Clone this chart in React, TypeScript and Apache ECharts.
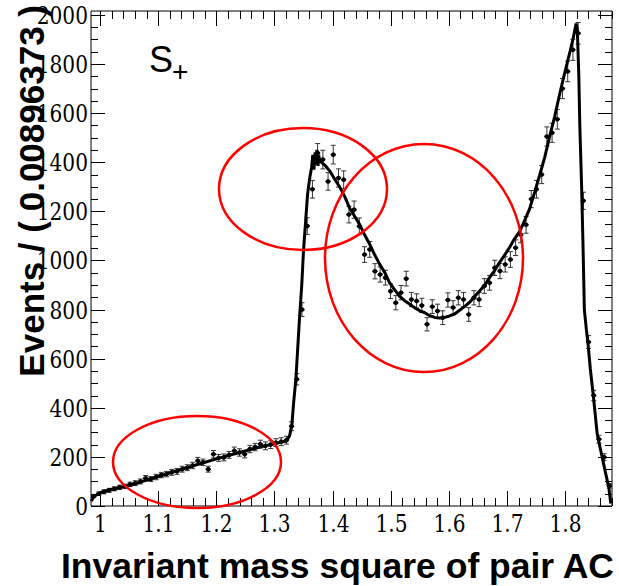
import React, { useEffect, useRef } from "react";
import * as echarts from "echarts";

// ---- data ----
const X_MIN = 0.9844;
const BIN_WIDTH = 0.00896373;
const Y_MAX = 2016;

const binCounts = [
  40, 50, 58, 64, 70, 76, 80, 88, 93, 100,
  113, 110, 118, 126, 130, 137, 141, 150, 156, 165,
  184, 178, 150, 211, 196, 198, 208, 225, 218, 211,
  232, 240, 252, 245, 250, 258, 262, 268, 325, 516,
  800, 1140, 1290, 1438, 1411, 1322, 1431, 1336, 1329, 1187,
  1207, 1139, 1024, 1045, 956, 943, 930, 875, 828, 869,
  926, 841, 835, 817, 740, 812, 794, 767, 839, 808,
  848, 841, 780, 848, 841, 896, 909, 970, 957, 984,
  1004, 1052, 1105, 1145, 1250, 1290, 1350, 1505, 1520, 1575,
  1700, 1770, 1858, 1925, 1243, 668, 450, 272, 199, 82,
];

const binErrors = [
  6, 7, 8, 8, 8, 9, 9, 9, 10, 10,
  11, 10, 11, 11, 11, 12, 12, 12, 12, 13,
  14, 13, 12, 15, 14, 14, 14, 15, 15, 15,
  15, 15, 16, 16, 16, 16, 16, 16, 18, 23,
  28, 34, 36, 38, 38, 36, 38, 37, 36, 34,
  35, 34, 32, 32, 31, 31, 30, 30, 29, 29,
  30, 29, 29, 29, 27, 28, 28, 28, 29, 28,
  29, 29, 28, 29, 29, 30, 30, 31, 31, 31,
  32, 32, 33, 34, 35, 36, 37, 39, 39, 40,
  41, 42, 43, 44, 35, 26, 21, 16, 14, 9,
];

const fitX = [
  0.9852, 0.988, 0.993, 1.0, 1.017, 1.043, 1.069, 1.103, 1.137, 1.172,
  1.206, 1.24, 1.275, 1.309, 1.321, 1.326, 1.33, 1.333, 1.337, 1.34,
  1.343, 1.347, 1.35, 1.354, 1.357, 1.361, 1.364, 1.366, 1.368, 1.37,
  1.371, 1.373, 1.375, 1.376, 1.378, 1.383, 1.388, 1.395, 1.404, 1.412,
  1.421, 1.429, 1.438, 1.447, 1.455, 1.464, 1.472, 1.481, 1.49, 1.498,
  1.507, 1.515, 1.524, 1.533, 1.541, 1.55, 1.558, 1.567, 1.576, 1.584,
  1.593, 1.601, 1.61, 1.618, 1.627, 1.636, 1.644, 1.653, 1.662, 1.67,
  1.679, 1.687, 1.696, 1.705, 1.713, 1.722, 1.73, 1.739, 1.748, 1.756,
  1.765, 1.773, 1.782, 1.791, 1.799, 1.808, 1.814, 1.819, 1.8211, 1.8237,
  1.8254, 1.8285, 1.831, 1.8332, 1.8366, 1.8395, 1.8434, 1.8486, 1.8555, 1.8624,
  1.8692, 1.8753, 1.8787,
];
const fitY = [
  20, 34, 44, 54, 66, 80, 97, 122, 147, 172,
  196, 218, 240, 258, 266, 285, 330, 420, 520, 640,
  760, 900, 1040, 1170, 1270, 1340, 1380, 1430, 1370, 1440,
  1390, 1450, 1385, 1430, 1405, 1395, 1385, 1365, 1330, 1300,
  1260, 1215, 1180, 1145, 1105, 1066, 1025, 985, 950, 910,
  880, 855, 836, 822, 808, 795, 788, 775, 768, 766,
  768, 774, 782, 796, 812, 830, 852, 876, 900, 930,
  960, 991, 1022, 1055, 1088, 1118, 1160, 1210, 1280, 1345,
  1420, 1500, 1585, 1680, 1760, 1845, 1905, 1965, 1940, 1750,
  1550, 1300, 1050, 800, 720, 660, 560, 450, 290, 215,
  140, 75, 10,
];

const xTickLabels = ["1", "1.1", "1.2", "1.3", "1.4", "1.5", "1.6", "1.7", "1.8"];
const yTickLabels = ["0", "200", "400", "600", "800", "1000", "1200", "1400", "1600", "1800", "2000"];
const xTickValues = [1, 1.1, 1.2, 1.3, 1.4, 1.5, 1.6, 1.7, 1.8];
const yTickValues = [0, 200, 400, 600, 800, 1000, 1200, 1400, 1600, 1800, 2000];
const X_MINOR_STEP = 0.02;
const Y_MINOR_STEP = 50;

const X_TITLE = "Invariant mass square of pair AC";
const Y_TITLE = "Events / ( 0.00896373 )";

const X_MAX = X_MIN + binCounts.length * BIN_WIDTH;

export default function App() {
  const ref = useRef<HTMLDivElement>(null);

  useEffect(() => {
    if (!ref.current) return;
    const chart = echarts.init(ref.current, undefined, { renderer: "svg" });

    const points = binCounts.map((v, i) => [X_MIN + (i + 0.5) * BIN_WIDTH, v, binErrors[i]]);
    const fit = fitX.map((x, i) => [x, fitY[i]]);

    const xMinor: number[] = [];
    for (let k = -5; k * X_MINOR_STEP + 1 < X_MAX; k++) {
      const v = Math.round((1 + k * X_MINOR_STEP) * 1000) / 1000;
      if (v > X_MIN && v < X_MAX && xTickValues.indexOf(v) < 0) xMinor.push(v);
    }
    const yMinor: number[] = [];
    for (let v = Y_MINOR_STEP; v < Y_MAX; v += Y_MINOR_STEP) {
      if (yTickValues.indexOf(v) < 0) yMinor.push(v);
    }

    const tickLine = (x1: number, y1: number, x2: number, y2: number) => ({
      type: "line",
      shape: { x1, y1, x2, y2 },
      style: { stroke: "#000", lineWidth: 1 },
    });

    const labelFont = "24px DejaVu Serif";
    const labelScaleX = 0.84;
    const sans = "'Liberation Sans', Arial, Helvetica, sans-serif";

    chart.setOption({
      animation: false,
      backgroundColor: "#fff",
      grid: {
        left: 91,
        right: 7,
        top: 11,
        bottom: 80,
        show: true,
        borderColor: "#000",
        borderWidth: 1,
        backgroundColor: "transparent",
      },
      xAxis: {
        type: "value",
        min: X_MIN,
        max: X_MAX,
        axisLine: { show: false },
        axisTick: { show: false },
        splitLine: { show: false },
        axisLabel: { show: false },
      },
      yAxis: {
        type: "value",
        min: 0,
        max: Y_MAX,
        axisLine: { show: false },
        axisTick: { show: false },
        splitLine: { show: false },
        axisLabel: { show: false },
      },
      series: [
        {
          type: "custom",
          name: "axes",
          silent: true,
          clip: false,
          z: 3,
          data: [[X_MIN, 0]],
          encode: { x: 0, y: 1 },
          renderItem: (_params: any, api: any) => {
            const children: any[] = [];
            const bottomY = api.coord([X_MIN, 0])[1];
            const topY = api.coord([X_MIN, Y_MAX])[1];
            const leftX = api.coord([X_MIN, 0])[0];
            const rightX = api.coord([X_MAX, 0])[0];
            xTickValues.forEach((v, i) => {
              const px = Math.round(api.coord([v, 0])[0]) + 0.5;
              children.push(tickLine(px, bottomY, px, bottomY - 15));
              children.push(tickLine(px, topY, px, topY + 15));
              children.push({
                type: "text",
                x: px,
                y: bottomY + 5,
                scaleX: labelScaleX,
                style: {
                  text: xTickLabels[i],
                  font: labelFont,
                  fill: "#000",
                  textAlign: "center",
                  textVerticalAlign: "top",
                },
              });
            });
            xMinor.forEach((v) => {
              const px = Math.round(api.coord([v, 0])[0]) + 0.5;
              children.push(tickLine(px, bottomY, px, bottomY - 8));
              children.push(tickLine(px, topY, px, topY + 8));
            });
            yTickValues.forEach((v, i) => {
              const py = Math.round(api.coord([X_MIN, v])[1]) + 0.5;
              children.push(tickLine(leftX, py, leftX + 14, py));
              children.push(tickLine(rightX, py, rightX - 14, py));
              children.push({
                type: "text",
                x: leftX - 3,
                y: py,
                scaleX: labelScaleX,
                style: {
                  text: yTickLabels[i],
                  font: labelFont,
                  fill: "#000",
                  textAlign: "right",
                  textVerticalAlign: "middle",
                },
              });
            });
            yMinor.forEach((v) => {
              const py = Math.round(api.coord([X_MIN, v])[1]) + 0.5;
              children.push(tickLine(leftX, py, leftX + 7, py));
              children.push(tickLine(rightX, py, rightX - 7, py));
            });
            return { type: "group", children };
          },
        },
        {
          type: "custom",
          name: "data",
          z: 4,
          data: points,
          encode: { x: 0, y: 1 },
          renderItem: (_params: any, api: any) => {
            const x = api.value(0);
            const y = api.value(1);
            const e = api.value(2);
            const c = api.coord([x, y]);
            const t = api.coord([x, y + e]);
            const b = api.coord([x, y - e]);
            const l = api.coord([x - BIN_WIDTH / 2, y]);
            const r = api.coord([x + BIN_WIDTH / 2, y]);
            const st = { stroke: "#333", lineWidth: 1 };
            return {
              type: "group",
              children: [
                { type: "line", shape: { x1: c[0], y1: t[1], x2: c[0], y2: b[1] }, style: st },
                { type: "line", shape: { x1: c[0] - 2.5, y1: t[1], x2: c[0] + 2.5, y2: t[1] }, style: st },
                { type: "line", shape: { x1: c[0] - 2.5, y1: b[1], x2: c[0] + 2.5, y2: b[1] }, style: st },
                { type: "line", shape: { x1: l[0], y1: c[1], x2: r[0], y2: c[1] }, style: { stroke: "#000", lineWidth: 1.5 } },
                { type: "circle", shape: { cx: c[0], cy: c[1], r: 2.3 }, style: { fill: "#000" } },
              ],
            };
          },
        },
        {
          type: "line",
          name: "fit",
          z: 5,
          data: fit,
          showSymbol: false,
          symbol: "none",
          lineStyle: { color: "#000", width: 3 },
        },
      ],
      graphic: [
        {
          type: "ellipse",
          z: 50,
          shape: { cx: 197, cy: 462, rx: 84, ry: 46 },
          style: { fill: "none", stroke: "#ff0000", lineWidth: 2.5 },
        },
        {
          type: "ellipse",
          z: 50,
          shape: { cx: 303, cy: 189, rx: 84, ry: 61 },
          style: { fill: "none", stroke: "#ff0000", lineWidth: 2.5 },
        },
        {
          type: "ellipse",
          z: 50,
          shape: { cx: 424, cy: 258, rx: 99, ry: 114 },
          style: { fill: "none", stroke: "#ff0000", lineWidth: 2.5 },
        },
        {
          type: "text",
          z: 60,
          x: 149,
          y: 59,
          style: {
            text: "S",
            font: `normal 36px ${sans}`,
            fill: "#000",
            textAlign: "left",
            textVerticalAlign: "middle",
          },
        },
        {
          type: "text",
          z: 60,
          x: 172,
          y: 71,
          style: {
            text: "+",
            font: `normal 28px ${sans}`,
            fill: "#000",
            textAlign: "left",
            textVerticalAlign: "middle",
          },
        },
        {
          type: "text",
          z: 60,
          x: 614,
          y: 566,
          style: {
            text: X_TITLE,
            font: `bold 35.5px ${sans}`,
            fill: "#000",
            textAlign: "right",
            textVerticalAlign: "middle",
          },
        },
        {
          type: "text",
          z: 60,
          x: 31,
          y: 5,
          rotation: Math.PI / 2,
          style: {
            text: Y_TITLE,
            font: `bold 35px ${sans}`,
            fill: "#000",
            textAlign: "right",
            textVerticalAlign: "middle",
          },
        },
      ],
    });

    return () => chart.dispose();
  }, []);

  return (
    <div
      ref={ref}
      style={{ position: "fixed", left: 0, top: 0, width: 619, height: 586, background: "#fff" }}
    />
  );
}
